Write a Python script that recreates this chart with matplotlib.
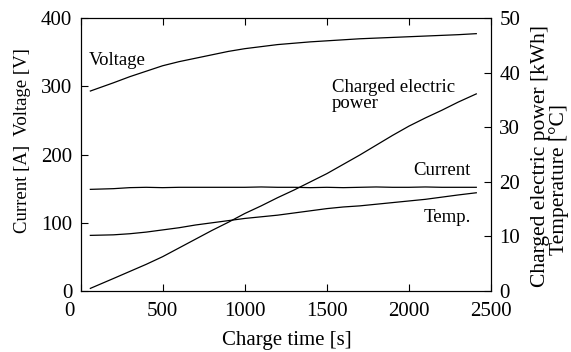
import numpy as np
import matplotlib
matplotlib.use('Agg')
import matplotlib.pyplot as plt
import matplotlib.transforms as mtransforms

plt.rcParams['font.family'] = ['Liberation Serif', 'DejaVu Serif']

# charge time [s]
t = [60, 200, 300, 400, 500, 600, 700, 800, 900, 1000, 1100, 1200,
     1300, 1400, 1500, 1600, 1700, 1800, 1900, 2000, 2100, 2200, 2300, 2410]

voltage = [293, 305, 314, 322, 330, 336, 341, 346, 351, 355, 358, 361,
           363, 365, 366.5, 368, 369.5, 370.5, 371.5, 372.5, 373.5, 374.5, 375.5, 377]
current = [149, 150, 151.5, 152, 151.5, 152, 152, 152, 152, 152, 152.5, 152,
           152, 151.5, 152, 151.5, 152, 152.5, 152, 152, 152.5, 152, 152, 152]
temp = [10.2, 10.3, 10.5, 10.8, 11.2, 11.6, 12.1, 12.5, 12.9, 13.3, 13.6, 13.9,
        14.3, 14.7, 15.1, 15.4, 15.6, 15.9, 16.2, 16.5, 16.8, 17.2, 17.6, 18.0]
power = [0.5, 2.3, 3.6, 4.9, 6.3, 7.9, 9.5, 11.1, 12.6, 14.2, 15.6, 17.1,
         18.5, 20.0, 21.5, 23.2, 24.9, 26.7, 28.5, 30.2, 31.7, 33.1, 34.6, 36.1]

fig, ax = plt.subplots(figsize=(5.71, 3.52), dpi=100)
fig.subplots_adjust(left=0.141, right=0.860, bottom=0.173, top=0.949)
ax2 = ax.twinx()

ax.plot(t, voltage, color='k', lw=0.9)
ax.plot(t, current, color='k', lw=0.9)
ax2.plot(t, temp, color='k', lw=0.9)
ax2.plot(t, power, color='k', lw=0.9)

ax.set_xlim(0, 2500)
ax.set_ylim(0, 400)
ax2.set_ylim(0, 50)
ax.set_xticks([0, 500, 1000, 1500, 2000, 2500])
ax.set_yticks([0, 100, 200, 300, 400])
ax2.set_yticks([0, 10, 20, 30, 40, 50])

ax.tick_params(direction='in', top=True, labelsize=15, length=5)
ax.tick_params(axis='x', pad=7.5)
ax.tick_params(axis='y', pad=6)
ax2.tick_params(direction='in', labelsize=15, length=5, pad=6)

# the x "0" sits left of the corner, under the y "0"
lab0 = ax.get_xticklabels()[0]
lab0.set_transform(lab0.get_transform() +
                   mtransforms.ScaledTranslation(-0.11, 0, fig.dpi_scale_trans))

fig.text(0.502, 0.034, 'Charge time [s]', fontsize=15, ha='center', va='center')
fig.text(0.039, 0.602, 'Current [A]  Voltage [V]', fontsize=13.5,
         rotation=90, ha='center', va='center')
fig.text(0.946, 0.557, 'Charged electric power [kWh]', fontsize=15.5,
         rotation=90, ha='center', va='center')
fig.text(0.979, 0.49, 'Temperature [\u00b0C]', fontsize=15.5,
         rotation=90, ha='center', va='center')

ax.text(53, 338, 'Voltage', fontsize=13.5, va='center')
ax.text(1530, 286, 'Charged electric\npower', fontsize=13.5, va='center', linespacing=0.95)
ax.text(2024, 177, 'Current', fontsize=13.5, va='center')
ax.text(2092, 108, 'Temp.', fontsize=13.5, va='center')

plt.savefig('out.png', dpi=100)
